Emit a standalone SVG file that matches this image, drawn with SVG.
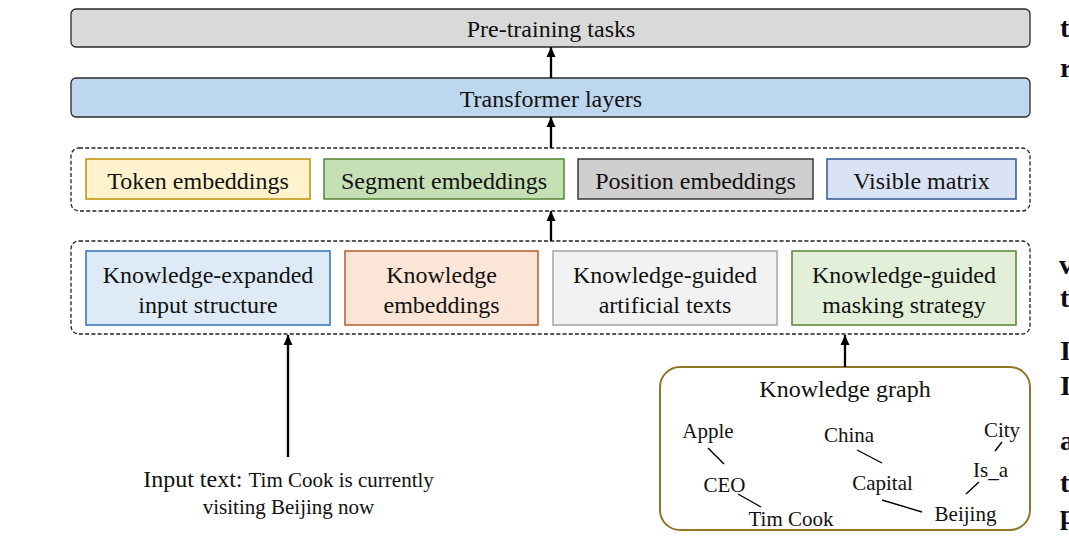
<svg xmlns="http://www.w3.org/2000/svg" width="1069" height="557" viewBox="0 0 1069 557">
<style>
text{font-family:"Liberation Serif","Times New Roman",serif;fill:#111;}
.lbl{font-size:24px;text-anchor:middle;}
.kg{font-size:21px;text-anchor:middle;}
.bar{stroke:#2b2b2b;stroke-width:1.3;}
.grp{fill:none;stroke:#222;stroke-width:1.3;stroke-dasharray:4 2.2;}
.box{stroke-width:1.5;}
.conn{stroke:#000;stroke-width:2.3;fill:none;marker-end:url(#ah);}
.kl{stroke:#000;stroke-width:1.4;}
.edge{font-size:28px;font-weight:bold;fill:#0d0d1a;}
</style>
<defs>
<marker id="ah" markerUnits="userSpaceOnUse" markerWidth="10" markerHeight="11" refX="10" refY="5" orient="auto">
<path d="M0,0.5 L10,5 L0,9.5 z" fill="#000"/>
</marker>
</defs>
<rect width="1069" height="557" fill="#fff"/>

<g id="pretraining">
<rect class="bar" x="71" y="9" width="959" height="38" rx="5" fill="#d9d9d9"/>
<text class="lbl" x="551" y="37">Pre-training tasks</text>
</g>
<g id="transformer">
<rect class="bar" x="71" y="78" width="959" height="39" rx="5" fill="#bdd7ee"/>
<text class="lbl" x="551" y="107">Transformer layers</text>
</g>

<g id="embeddings-group">
<rect class="grp" x="71" y="148" width="959" height="63" rx="8"/>
</g>
<g id="token">
<rect class="box" x="86" y="159" width="224" height="40" fill="#fff2cc" stroke="#bf9000"/>
<text class="lbl" x="198" y="188.5">Token embeddings</text>
</g>
<g id="segment">
<rect class="box" x="324" y="159" width="240" height="40" fill="#c5e0b4" stroke="#548235"/>
<text class="lbl" x="444" y="188.5">Segment embeddings</text>
</g>
<g id="position">
<rect class="box" x="578" y="159" width="235" height="40" fill="#d0cece" stroke="#3b3838"/>
<text class="lbl" x="695.5" y="188.5">Position embeddings</text>
</g>
<g id="visible">
<rect class="box" x="827" y="159" width="189" height="40" fill="#dae3f3" stroke="#2f5597"/>
<text class="lbl" x="921.5" y="188.5">Visible matrix</text>
</g>

<g id="knowledge-group">
<rect class="grp" x="71" y="241" width="959" height="93" rx="8"/>
</g>
<g id="expanded">
<rect class="box" x="86" y="251" width="244" height="74" fill="#deebf7" stroke="#2e75b6"/>
<text class="lbl" x="208" y="283">Knowledge-expanded</text>
<text class="lbl" x="208" y="313">input structure</text>
</g>
<g id="kembed">
<rect class="box" x="345" y="251" width="193" height="74" fill="#fbe5d6" stroke="#b3602a"/>
<text class="lbl" x="441.5" y="283">Knowledge</text>
<text class="lbl" x="441.5" y="313">embeddings</text>
</g>
<g id="artificial">
<rect class="box" x="553" y="251" width="224" height="74" fill="#f2f2f2" stroke="#a6a6a6"/>
<text class="lbl" x="665" y="283">Knowledge-guided</text>
<text class="lbl" x="665" y="313">artificial texts</text>
</g>
<g id="masking">
<rect class="box" x="792" y="251" width="224" height="74" fill="#e2f0d9" stroke="#548235"/>
<text class="lbl" x="904" y="283">Knowledge-guided</text>
<text class="lbl" x="904" y="313">masking strategy</text>
</g>

<g id="input-text">
<text x="288.5" y="487" text-anchor="middle"><tspan font-size="24">Input text: </tspan><tspan font-size="21">Tim Cook is currently</tspan></text>
<text x="288.5" y="514" text-anchor="middle" font-size="21">visiting Beijing now</text>
</g>

<g id="knowledge-graph">
<rect x="660" y="367" width="370" height="163" rx="20" fill="#fff" stroke="#927526" stroke-width="2"/>
<text class="lbl" x="845" y="397">Knowledge graph</text>
<text class="kg" x="708" y="438">Apple</text>
<text class="kg" x="849" y="442">China</text>
<text class="kg" x="1002" y="437">City</text>
<text class="kg" x="724.5" y="492">CEO</text>
<text class="kg" x="882.5" y="490">Capital</text>
<text class="kg" x="990.5" y="477">Is_a</text>
<text class="kg" x="791" y="526">Tim Cook</text>
<text class="kg" x="965.5" y="521">Beijing</text>
<line class="kl" x1="708" y1="448" x2="724" y2="464"/>
<line class="kl" x1="738" y1="494" x2="761" y2="507"/>
<line class="kl" x1="857" y1="450" x2="882" y2="463"/>
<line class="kl" x1="882" y1="500" x2="922" y2="512"/>
<line class="kl" x1="1002" y1="442" x2="995" y2="451"/>
<line class="kl" x1="979" y1="482" x2="966" y2="494"/>
</g>

<g id="connectors">
<line class="conn" x1="551" y1="78" x2="551" y2="47"/>
<line class="conn" x1="551" y1="148" x2="551" y2="117"/>
<line class="conn" x1="551" y1="241" x2="551" y2="211"/>
<line class="conn" x1="288" y1="457" x2="288" y2="335"/>
<line class="conn" x1="845" y1="367" x2="845" y2="335"/>
</g>

<g id="page-edge-text">
<text class="edge" x="1060" y="37">t</text>
<text class="edge" x="1060" y="77">r</text>
<text class="edge" x="1059" y="274">v</text>
<text class="edge" x="1060" y="307">t</text>
<text class="edge" x="1060" y="360">I</text>
<text class="edge" x="1060" y="395">I</text>
<text class="edge" x="1060" y="450">a</text>
<text class="edge" x="1060" y="492">t</text>
<text class="edge" x="1060" y="524">p</text>
</g>
</svg>
